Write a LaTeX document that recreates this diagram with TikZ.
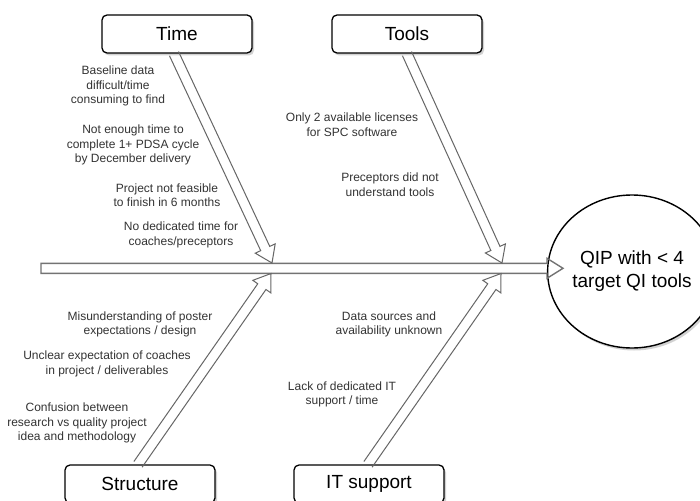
\documentclass[tikz,border=0pt]{standalone}
\usepackage{fontspec}
\setmainfont{Liberation Sans}
\usetikzlibrary{calc,shapes.geometric,shadows}
% hollow arrow from #2 to tip #3: shaft half width #4, head half width #5, head length #6, #7 closing
\newcommand{\harrow}[7][]{%
  \coordinate (hb) at ($(#3)!#6!(#2)$);
  \draw[#1] ($(#2)!#4!90:(#3)$) -- ($(hb)!#4!90:(#3)$) -- ($(hb)!#5!90:(#3)$) -- (#3)
    -- ($(hb)!#5!-90:(#3)$) -- ($(hb)!#4!-90:(#3)$) -- ($(#2)!#4!-90:(#3)$) #7;
}
\tikzset{
  catbox/.style={draw=black, line width=1.3pt, rounded corners=5pt,
    minimum width=150pt, minimum height=38pt, inner sep=0pt, fill=white,
    font=\fontsize{19}{22}\selectfont,
    drop shadow={shadow xshift=2pt, shadow yshift=-2.5pt, fill=black!35, opacity=0.5}},
  goalshape/.style={ellipse, draw=black, line width=1.4pt, minimum width=134pt,
    minimum height=153pt, inner sep=0pt, align=center, fill=white,
    font=\fontsize{19}{23}\selectfont,
    drop shadow={shadow xshift=2pt, shadow yshift=-2.5pt, fill=black!35, opacity=0.5}},
  cause/.style={align=center, font=\fontsize{12}{14.5}\selectfont, text=black!80, inner sep=0pt},
  hollow/.style={draw=black!60, line width=1pt, line join=miter},
  spineline/.style={draw=black!55, line width=1.4pt, line join=miter}
}
\begin{document}
\begin{tikzpicture}[x=1pt, y=-1pt]
\useasboundingbox[fill=white] (0,0) rectangle (700,500);

% nodes
\node[catbox] (time) at (177,34) {Time};
\node[catbox] (tools) at (407,34) {Tools};
\node[catbox] (structure) at (140,484) {Structure};
\node[catbox] (it) at (369,484) {IT support};
\node[goalshape] (goal) at (632,271.5) {QIP with < 4\\target QI tools};

% coordinates on the spine
\coordinate (tail) at (41,268.3);
\coordinate (head) at (563,268.3);
\coordinate (ptime) at (272,263);
\coordinate (ptools) at (502,263);
\coordinate (pstruct) at (271,273.5);
\coordinate (pit) at (501,273.5);
\coordinate (stime) at ($(time.south)+(-3,0)$);
\coordinate (stools) at (tools.south);
\coordinate (sstruct) at ($(structure.north)+(-2,0)$);
\coordinate (sit) at ($(it.north)+(-1,0)$);

% spine
\harrow[spineline]{tail}{head}{5pt}{10pt}{16pt}{-- cycle}

% branches
\harrow[hollow]{stime}{ptime}{5pt}{11pt}{16pt}{}
\harrow[hollow]{stools}{ptools}{5pt}{11pt}{16pt}{}
\harrow[hollow]{sstruct}{pstruct}{5pt}{11pt}{16pt}{}
\harrow[hollow]{sit}{pit}{5pt}{11pt}{16pt}{}

% causes: Time
\node[cause] (t1) at (118,86) {Baseline data\\difficult/time\\consuming to find};
\node[cause] (t2) at (133,145) {Not enough time to\\complete 1+ PDSA cycle\\by December delivery};
\node[cause] (t3) at (167,195) {Project not feasible\\to finish in 6 months};
\node[cause] (t4) at (181,235) {No dedicated time for\\coaches/preceptors};
% causes: Tools
\node[cause] (t5) at (352,124.5) {Only 2 available licenses\\for SPC software};
\node[cause] (t6) at (390,184.5) {Preceptors did not\\understand tools};
% causes: Structure
\node[cause] (t7) at (140,324.5) {Misunderstanding of poster\\expectations / design};
\node[cause] (t8) at (107,364) {Unclear expectation of coaches\\in project / deliverables};
\node[cause] (t9) at (77,423) {Confusion between\\research vs quality project\\idea and methodology};
% causes: IT support
\node[cause] (t10) at (389,324.5) {Data sources and\\availability unknown};
\node[cause] (t11) at (342,394.5) {Lack of dedicated IT\\support / time};
\end{tikzpicture}
\end{document}
